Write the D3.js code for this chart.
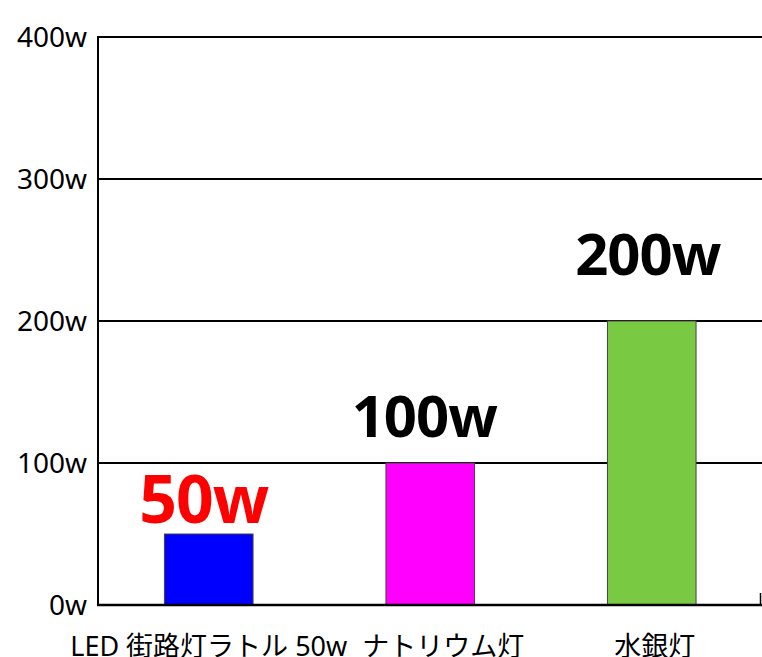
<!DOCTYPE html>
<html><head><meta charset="utf-8">
<script src="https://cdn.jsdelivr.net/npm/d3@7"></script>
<style>body{margin:0;background:#fff;} svg{display:block;}</style>
</head><body>
<svg id="c" width="762" height="657"></svg>
<script>
const categories = ["LED 街路灯ラトル 50w", "ナトリウム灯", "水銀灯"];
const values = [50, 100, 200];
const valueLabels = ["50w", "100w", "200w"];
const colors = ["#0000ff", "#ff00ff", "#7ac943"];
const labelColors = ["#ff0000", "#000000", "#000000"];
const yTicks = [0, 100, 200, 300, 400];
const yTickLabels = ["0w", "100w", "200w", "300w", "400w"];

(function () {
const svg = d3.select("#c");
const mLeft = 98, mRight = 762.5, mTop = 37, mBottom = 605;
const font = "'Noto Sans', 'Noto Sans CJK JP', sans-serif";

const x = d3.scaleBand().domain(categories).range([mLeft, mRight]).paddingInner(0.6).paddingOuter(0.3);
const y = d3.scaleLinear().domain([0, 400]).range([mBottom, mTop]);

// gridlines
svg.append("g").selectAll("line").data(yTicks.filter(d => d > 0)).join("line")
  .attr("x1", mLeft).attr("x2", 762).attr("y1", d => y(d)).attr("y2", d => y(d))
  .attr("stroke", "#000").attr("stroke-width", 2);

// y tick labels
svg.append("g").selectAll("text").data(yTicks).join("text")
  .attr("x", 87).attr("y", d => y(d)).attr("dy", "0.36em")
  .attr("text-anchor", "end").attr("font-family", font).attr("font-size", 28)
  .attr("fill", "#000").text((d, i) => yTickLabels[i]);

// bars
svg.append("g").selectAll("rect").data(values).join("rect")
  .attr("x", (d, i) => x(categories[i])).attr("width", x.bandwidth())
  .attr("y", d => y(d)).attr("height", d => y(0) - y(d))
  .attr("fill", (d, i) => colors[i]).attr("stroke", "#444").attr("stroke-width", 1);

// axes lines
svg.append("line").attr("x1", mLeft).attr("x2", mLeft).attr("y1", mTop - 1).attr("y2", mBottom + 1)
  .attr("stroke", "#000").attr("stroke-width", 2);
svg.append("line").attr("x1", mLeft - 1).attr("x2", 762).attr("y1", mBottom).attr("y2", mBottom)
  .attr("stroke", "#000").attr("stroke-width", 2.5);
svg.append("line").attr("x1", 760.5).attr("x2", 760.5).attr("y1", mBottom).attr("y2", mBottom - 12)
  .attr("stroke", "#000").attr("stroke-width", 1.5);

// value labels
const labelSize = [66, 58, 58];
const labelDy = [-11, -26, -46];
const labelDx = [-5, -6, -4];
svg.append("g").selectAll("text").data(values).join("text")
  .attr("x", (d, i) => x(categories[i]) + x.bandwidth() / 2 + labelDx[i])
  .attr("y", (d, i) => y(d) + labelDy[i])
  .attr("text-anchor", "middle").attr("font-family", font).attr("font-weight", "bold")
  .attr("font-size", (d, i) => labelSize[i]).attr("letter-spacing", "-1px")
  .attr("fill", (d, i) => labelColors[i]).text((d, i) => valueLabels[i]);

// category labels
const catDx = [0, 13, 3];
svg.append("g").selectAll("text").data(categories).join("text")
  .attr("x", (d, i) => x(d) + x.bandwidth() / 2 + catDx[i]).attr("y", 656)
  .attr("text-anchor", "middle").attr("font-family", font).attr("font-size", 27)
  .attr("fill", "#000").text(d => d);
})();
</script>
</body></html>
